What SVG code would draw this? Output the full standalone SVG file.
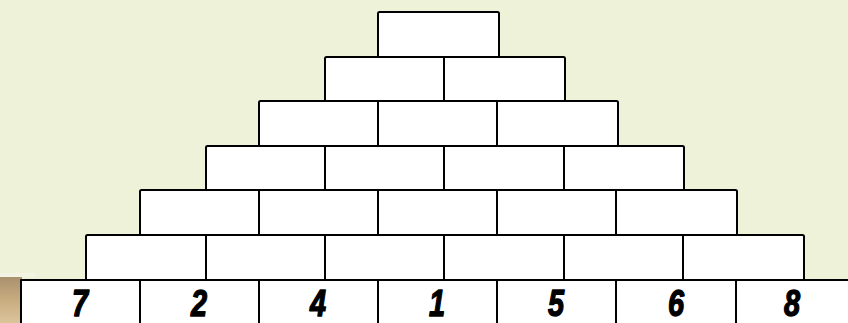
<svg xmlns="http://www.w3.org/2000/svg" width="848" height="323" viewBox="0 0 848 323">
  <defs>
    <linearGradient id="tan" x1="0" y1="0" x2="0" y2="1">
      <stop offset="0" stop-color="#a8906e"/>
      <stop offset="0.5" stop-color="#c8ac80"/>
      <stop offset="1" stop-color="#dcc49a"/>
    </linearGradient>
    <style>
      .b{fill:#ffffff;stroke:#000;stroke-width:2;stroke-linejoin:round}
      .d{stroke:#000;stroke-width:2}
      .n{font-family:"Liberation Sans",Arial,sans-serif;font-weight:bold;font-style:italic;font-size:37px;fill:#000;stroke:#000;stroke-width:1.4;stroke-linejoin:round;text-anchor:middle}
    </style>
  </defs>
  <rect x="0" y="0" width="848" height="323" fill="#eef2d8"/>
  <rect x="0" y="276" width="22" height="47" fill="url(#tan)"/>
  <rect x="0" y="273" width="35" height="4" fill="#f3f5e4"/>

  <g id="row1">
    <rect class="b" x="378" y="12" width="121" height="45" rx="1.5"/>
  </g>
  <g id="row2">
    <rect class="b" x="325" y="57" width="240" height="45" rx="1.5"/>
    <line class="d" x1="444" y1="57" x2="444" y2="102"/>
  </g>
  <g id="row3">
    <rect class="b" x="259" y="101" width="359" height="45" rx="1.5"/>
    <line class="d" x1="378" y1="101" x2="378" y2="146"/>
    <line class="d" x1="497" y1="101" x2="497" y2="146"/>
  </g>
  <g id="row4">
    <rect class="b" x="206" y="146" width="478" height="45" rx="1.5"/>
    <line class="d" x1="325" y1="146" x2="325" y2="191"/>
    <line class="d" x1="444" y1="146" x2="444" y2="191"/>
    <line class="d" x1="564" y1="146" x2="564" y2="191"/>
  </g>
  <g id="row5">
    <rect class="b" x="140" y="190" width="597" height="45" rx="1.5"/>
    <line class="d" x1="259" y1="190" x2="259" y2="235"/>
    <line class="d" x1="378" y1="190" x2="378" y2="235"/>
    <line class="d" x1="497" y1="190" x2="497" y2="235"/>
    <line class="d" x1="616" y1="190" x2="616" y2="235"/>
  </g>
  <g id="row6">
    <rect class="b" x="86" y="235" width="718" height="45" rx="1.5"/>
    <line class="d" x1="206" y1="235" x2="206" y2="280"/>
    <line class="d" x1="325" y1="235" x2="325" y2="280"/>
    <line class="d" x1="444" y1="235" x2="444" y2="280"/>
    <line class="d" x1="564" y1="235" x2="564" y2="280"/>
    <line class="d" x1="683" y1="235" x2="683" y2="280"/>
  </g>
  <g id="base">
    <rect class="b" x="21" y="280" width="835" height="50"/>
    <line class="d" x1="140" y1="280" x2="140" y2="323"/>
    <line class="d" x1="259" y1="280" x2="259" y2="323"/>
    <line class="d" x1="378" y1="280" x2="378" y2="323"/>
    <line class="d" x1="497" y1="280" x2="497" y2="323"/>
    <line class="d" x1="616" y1="280" x2="616" y2="323"/>
    <line class="d" x1="736" y1="280" x2="736" y2="323"/>
    <text class="n" transform="translate(80,316) scale(0.78,1)">7</text>
    <text class="n" transform="translate(199,316) scale(0.78,1)">2</text>
    <text class="n" transform="translate(318,316) scale(0.78,1)">4</text>
    <text class="n" transform="translate(437,316) scale(0.78,1)">1</text>
    <text class="n" transform="translate(556,316) scale(0.78,1)">5</text>
    <text class="n" transform="translate(676,316) scale(0.78,1)">6</text>
    <text class="n" transform="translate(792,316) scale(0.78,1)">8</text>
  </g>
</svg>
